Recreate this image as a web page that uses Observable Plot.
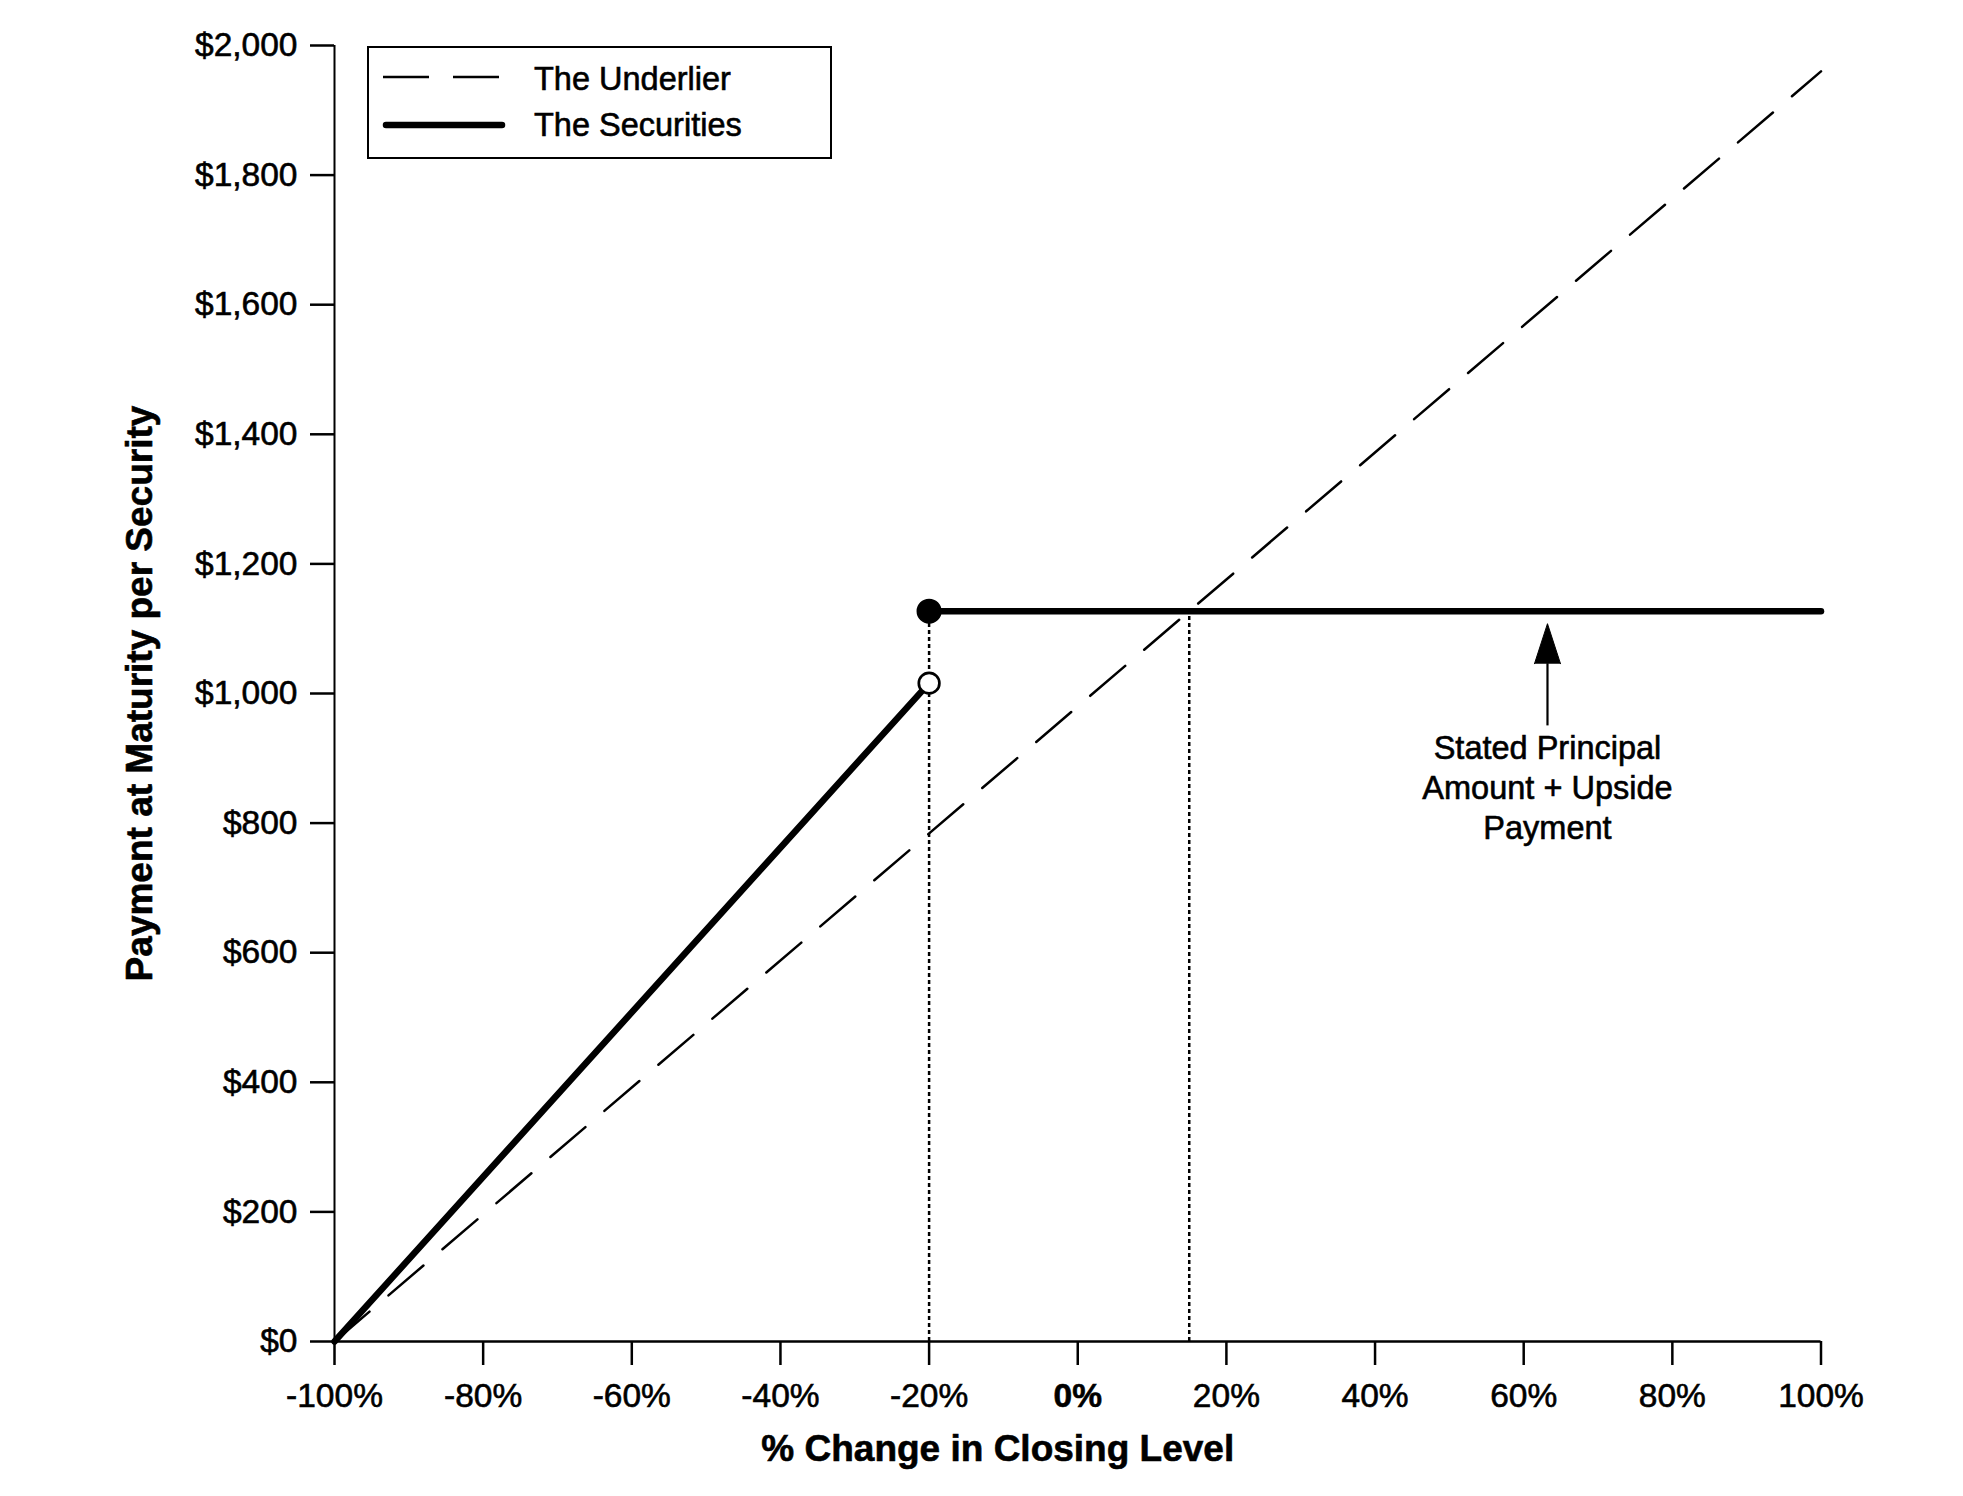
<!DOCTYPE html>
<html>
<head>
<meta charset="utf-8">
<script src="https://cdn.jsdelivr.net/npm/d3@7"></script>
<script src="https://cdn.jsdelivr.net/npm/@observablehq/plot@0.6"></script>
<style>
  html, body { margin: 0; padding: 0; background: #fff; }
  #wrap { position: relative; width: 1963px; height: 1496px; }
  #legend { position: absolute; left: 367px; top: 46px; }
  svg text { stroke: black; stroke-width: 0.6px; paint-order: stroke; }
</style>
</head>
<body>
<div id="wrap">
  <div id="chart"></div>
  <svg id="legend" width="466" height="114" xmlns="http://www.w3.org/2000/svg"></svg>
</div>
<script>
// ---- data ----
const xTicks = [-100, -80, -60, -40, -20, 0, 20, 40, 60, 80, 100];
const boldXTicks = [0];
const yTicks = [0, 200, 400, 600, 800, 1000, 1200, 1400, 1600, 1800, 2000];

const underlierX = [-100, 100];
const underlierY = [0, 1960];

const securitiesX = [-100, -20, -20, 100];
const securitiesY = [0, 1016, 1127, 1127];
const securitiesSegment = ["downside", "downside", "upside", "upside"];

const openDotX = [-20];
const openDotY = [1016];
const filledDotX = [-20];
const filledDotY = [1127];

const guideX = [-20, 15];
const guideTop = 1127;

const arrowX = [63.2];
const arrowFrom = [950];
const arrowHeadBase = [1046];
const noteY = [942];
const noteText = ["Stated Principal\nAmount + Upside\nPayment"];

const xTitle = "% Change in Closing Level";
const yTitle = "Payment at Maturity per Security";
const legendLabels = ["The Underlier", "The Securities"];

// ---- tables built from the arrays ----
const underlier = underlierX.map((x, i) => ({x, y: underlierY[i]}));
const securities = securitiesX.map((x, i) => ({x, y: securitiesY[i], segment: securitiesSegment[i]}));
const openDot = openDotX.map((x, i) => ({x, y: openDotY[i]}));
const filledDot = filledDotX.map((x, i) => ({x, y: filledDotY[i]}));
const guides = guideX.map(x => ({x, y1: 0, y2: guideTop}));
const arrow = arrowX.map((x, i) => ({x, y1: arrowFrom[i], y2: arrowHeadBase[i]}));
const note = arrowX.map((x, i) => ({x, y: noteY[i], text: noteText[i]}));

const FONT = "'Liberation Sans', Arial, Helvetica, sans-serif";
const xTickFmt = d => `${d}%`;
const yTickFmt = d => "$" + d3.format(",")(d);

const arrowHead = (typeof Plot.spike === "function")
  ? Plot.vector(arrow, {x: "x", y: "y2", length: 40, r: 13, shape: "spike", anchor: "start",
      rotate: 0, fill: "black", stroke: "black", strokeWidth: 1})
  : Plot.dot(arrow, {x: "x", y: "y2", symbol: "triangle", r: 14, fill: "black", dy: -14});

const chart = Plot.plot({
  width: 1963,
  height: 1496,
  marginLeft: 334,
  marginRight: 142.5,
  marginTop: 45,
  marginBottom: 155,
  x: {domain: [-100, 100]},
  y: {domain: [0, 2000]},
  style: {fontFamily: FONT, fontSize: "33px", background: "white", color: "black", overflow: "visible"},
  marks: [
    Plot.ruleX(guides, {x: "x", y1: "y1", y2: "y2", stroke: "black", strokeWidth: 2.5, strokeDasharray: "4,3"}),
    Plot.line(underlier, {x: "x", y: "y", stroke: "black", strokeWidth: 2.5, strokeDasharray: "46,25"}),
    Plot.line(securities, {x: "x", y: "y", z: "segment", stroke: "black", strokeWidth: 6.5,
      strokeLinecap: "round", strokeLinejoin: "round"}),
    Plot.ruleY([0], {stroke: "black", strokeWidth: 2.5}),
    Plot.ruleX([-100], {stroke: "black", strokeWidth: 2}),
    Plot.axisX({ticks: xTicks.filter(d => !boldXTicks.includes(d)), tickFormat: xTickFmt, tickSize: 24,
      tickPadding: 18, fontSize: 33.5, strokeWidth: 2.5, label: null, fontFamily: FONT}),
    Plot.axisX({ticks: boldXTicks, tickFormat: xTickFmt, tickSize: 24, tickPadding: 18, fontSize: 33.5,
      fontWeight: "bold", strokeWidth: 2.5, label: null, fontFamily: FONT}),
    Plot.axisY({ticks: yTicks, tickFormat: yTickFmt, tickSize: 24, tickPadding: 13, fontSize: 33.5,
      strokeWidth: 2.5, label: null, fontFamily: FONT}),
    Plot.dot(filledDot, {x: "x", y: "y", r: 11.8, fill: "black", stroke: "black"}),
    Plot.dot(openDot, {x: "x", y: "y", r: 10.3, fill: "white", stroke: "black", strokeWidth: 2.7}),
    Plot.ruleX(arrow, {x: "x", y1: "y1", y2: "y2", stroke: "black", strokeWidth: 2.2}),
    arrowHead,
    Plot.text(note, {x: "x", y: "y", text: "text", lineAnchor: "top", textAnchor: "middle",
      lineHeight: 1.22, fontSize: 32.5, fill: "black"}),
    Plot.text([xTitle], {frameAnchor: "bottom", text: d => d, dx: -80, dy: 108, lineAnchor: "middle",
      textAnchor: "middle", fontSize: 37, fontWeight: "bold", fill: "black"}),
    Plot.text([yTitle], {frameAnchor: "left", text: d => d, dx: -194, rotate: -90, lineAnchor: "middle",
      textAnchor: "middle", fontSize: 37, fontWeight: "bold", fill: "black"})
  ]
});
document.getElementById("chart").appendChild(chart);

// ---- legend box (inside the plot area, as in the reference) ----
const lg = d3.select("#legend");
lg.append("rect").attr("x", 1).attr("y", 1).attr("width", 463).attr("height", 111)
  .attr("fill", "white").attr("stroke", "black").attr("stroke-width", 2);
lg.append("line").attr("x1", 16).attr("x2", 132).attr("y1", 31).attr("y2", 31)
  .attr("stroke", "black").attr("stroke-width", 2.5).attr("stroke-dasharray", "46,24");
lg.append("line").attr("x1", 19).attr("x2", 135).attr("y1", 79).attr("y2", 79)
  .attr("stroke", "black").attr("stroke-width", 6.5).attr("stroke-linecap", "round");
lg.selectAll("text").data(legendLabels).join("text")
  .attr("x", 167).attr("y", (d, i) => i === 0 ? 44 : 90)
  .attr("font-family", FONT).attr("font-size", 32.5).attr("fill", "black")
  .text(d => d);
</script>
</body>
</html>
